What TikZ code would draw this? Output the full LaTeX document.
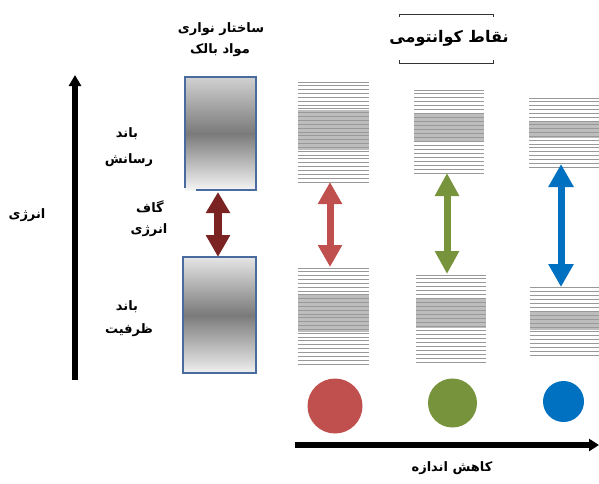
\documentclass[tikz,border=0pt]{standalone}
\usepackage{fontspec}
\usetikzlibrary{arrows.meta}
\TeXXeTstate=1
\newfontfamily\fa[Script=Arabic]{DejaVu Sans}
\definecolor{boxblue}{HTML}{4A6B9E}
\definecolor{gapred}{HTML}{7B2222}
\definecolor{qred}{HTML}{C0504D}
\definecolor{qgreen}{HTML}{77933C}
\definecolor{qblue}{HTML}{0070C0}
\definecolor{linegray}{HTML}{999999}
\definecolor{densegray}{HTML}{BDBDBD}
\tikzset{
  lbl/.style={font=\fa\bfseries\fontsize{13}{15}\selectfont, inner sep=0pt, align=center},
  levelline/.style={draw=linegray, line width=1pt},
  densefill/.style={fill=densegray},
  bulkedge/.style={draw=boxblue, line width=1.6pt},
}
\newcommand\qstack[6]{%
  \fill[densefill] (#1,#5) rectangle (#2,#6);
  \pgfmathtruncatemacro\nlines{round((#4-#3)/3.9)}
  \foreach \i in {0,...,\nlines}{%
    \pgfmathsetmacro\yy{#3+\i*(#4-#3)/\nlines}
    \draw[levelline] (#1,\yy) -- (#2,\yy);}
}
\begin{document}
\begin{tikzpicture}[x=1pt,y=-1pt]
\useasboundingbox (0,0) rectangle (599,483);

% energy axis
\coordinate (eB) at (75,380);
\coordinate (eT) at (75,75);
\draw[line width=5.5pt, -{Triangle[length=11pt,width=12pt]}] (eB) -- (eT);
\node[lbl] (energy) at (27,215) {\beginR انرژی\endR};

% bulk band structure
\shade[top color=black!18, bottom color=black!4, middle color=black!52] (185,77) rectangle (256,190);
\draw[bulkedge] (185,188) -- (185,77) -- (256,77) -- (256,190) -- (196,190);
\shade[top color=black!10, bottom color=black!6, middle color=black!52] (183,257) rectangle (256,373);
\draw[bulkedge] (183,257) rectangle (256,373);
\coordinate (gT) at (218,192);
\coordinate (gB) at (218,257);
\draw[line width=8pt, gapred, {Triangle[length=21pt,width=23pt]}-{Triangle[length=22pt,width=23pt]}] (gT) -- (gB);

\node[lbl] (bulk1) at (221,29) {\beginR ساختار نواری\endR};
\node[lbl] (bulk2) at (220,50) {\beginR مواد بالک\endR};
\node[lbl] (cb1) at (127,134) {\beginR باند\endR};
\node[lbl] (cb2) at (129,160) {\beginR رسانش\endR};
\node[lbl] (gap1) at (150,207) {\beginR گاف\endR};
\node[lbl] (gap2) at (149,230) {\beginR انرژی\endR};
\node[lbl] (vb1) at (127,307) {\beginR باند\endR};
\node[lbl] (vb2) at (129,330) {\beginR ظرفیت\endR};

% quantum dots title
\node[lbl, font=\fa\bfseries\fontsize{16}{18}\selectfont] (qd) at (449,38) {\beginR نقاط کوانتومی\endR};
\draw[black!80, line width=1pt] (399,17) -- (399,14) -- (493,14) -- (493,17);
\draw[black!80, line width=1pt] (399,60) -- (399,63) -- (493,63) -- (493,60);

% stacks
\qstack{298}{369}{82}{182}{110}{150}
\qstack{298}{369}{268}{364}{295}{332}
\qstack{414}{484}{90}{173}{113}{142}
\qstack{416}{486}{275}{362}{298}{328}
\qstack{529}{599}{98}{167}{121}{138}
\qstack{530}{599}{287}{355}{312}{330}

% gap arrows
\coordinate (rT) at (330,182);
\coordinate (rB) at (330,267);
\coordinate (gnT) at (447,173);
\coordinate (gnB) at (447,274);
\coordinate (bT) at (561,164);
\coordinate (bB) at (561,287);
\draw[line width=7pt, qred, {Triangle[length=22pt,width=23pt]}-{Triangle[length=22pt,width=23pt]}] (rT) -- (rB);
\draw[line width=7pt, qgreen, {Triangle[length=23pt,width=23pt]}-{Triangle[length=23pt,width=23pt]}] (gnT) -- (gnB);
\draw[line width=7pt, qblue, {Triangle[length=23pt,width=24pt]}-{Triangle[length=23pt,width=24pt]}] (bT) -- (bB);

% dots
\fill[qred] (335,406) circle[radius=27.5pt];
\fill[qgreen] (452.5,403) circle[radius=24.5pt];
\fill[qblue] (563.5,401.5) circle[radius=20.5pt];

% size axis
\coordinate (sL) at (295,445);
\coordinate (sR) at (599,445);
\draw[line width=6pt, -{Triangle[length=10pt,width=12pt]}] (sL) -- (sR);
\node[lbl] (size) at (452,468) {\beginR کاهش اندازه\endR};
\end{tikzpicture}
\end{document}
